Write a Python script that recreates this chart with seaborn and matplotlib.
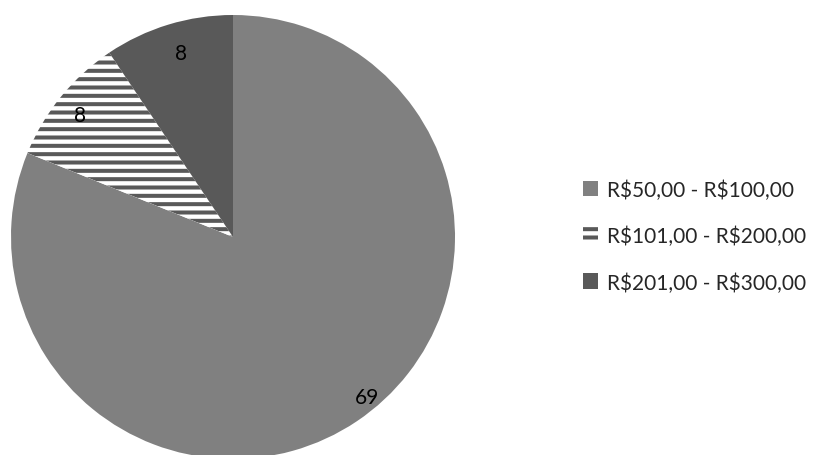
import numpy as np
import matplotlib
matplotlib.use("Agg")
import matplotlib.pyplot as plt
import seaborn as sns

sns.set_theme(style="white")
plt.rcParams["font.family"] = ["Lato", "DejaVu Sans"]
plt.rcParams["hatch.linewidth"] = 2.9
plt.rcParams["text.parse_math"] = False

# Price ranges and number of responses
categories = ["R$50,00 - R$100,00", "R$101,00 - R$200,00", "R$201,00 - R$300,00"]
counts = [69, 8, 8]
labels = ["69", "8", "8"]

face_colors = ["#808080", "#ffffff", "#595959"]
edge_colors = ["#808080", "#595959", "#595959"]
hatches = [None, "--", None]

fig = plt.figure(figsize=(8.32, 4.56), dpi=100)
ax = fig.add_axes([11 / 832, -4 / 456, 444 / 832, 444 / 456])

wedges, _ = ax.pie(counts, startangle=90, counterclock=False, radius=1,
                   colors=face_colors, wedgeprops=dict(linewidth=0))
for w, ec, h in zip(wedges, edge_colors, hatches):
    w.set_edgecolor(ec)
    w.set_linewidth(0)
    if h:
        w.set_hatch(h)

ax.set_xlim(-1, 1)
ax.set_ylim(-1, 1)
ax.set_aspect("equal")
ax.axis("off")

# value labels placed inside each slice (radius fraction, angle offset in degrees)
label_place = [(0.94, 6.0), (0.88, 0.5), (0.86, -1.0)]
for w, txt, (r, d) in zip(wedges, labels, label_place):
    ang = np.deg2rad((w.theta1 + w.theta2) / 2 + d)
    ax.text(r * np.cos(ang), r * np.sin(ang), txt, ha="center", va="center",
            fontsize=15, color="#000000")

leg = fig.legend(wedges, categories, loc="center left",
                 bbox_to_anchor=(564 / 832, 1 - 237 / 456), frameon=False,
                 fontsize=15, handlelength=0.75, handleheight=0.8,
                 handletextpad=0.4, labelspacing=1.25)

fig.savefig("out.png", dpi=100)
